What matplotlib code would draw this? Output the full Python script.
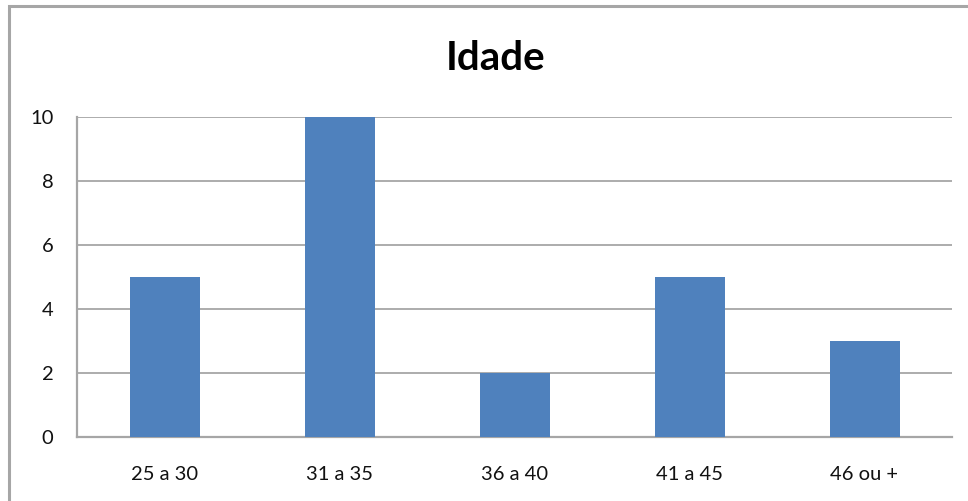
import matplotlib.pyplot as plt
from matplotlib.patches import Rectangle

categorias = ['25 a 30', '31 a 35', '36 a 40', '41 a 45', '46 ou +']
valores = [5, 10, 2, 5, 3]
yticks = [0, 2, 4, 6, 8, 10]

plt.rcParams['font.family'] = ['Lato', 'DejaVu Sans']

fig = plt.figure(figsize=(9.68, 5.01), dpi=100)
W, H = 968, 501

# moldura do gráfico (cortada à direita e em baixo)
fig.patches.append(Rectangle((9 / W, -0.1), 1.2, 1 - 5.5 / H + 0.1,
                             transform=fig.transFigure, fill=False,
                             edgecolor='#a6a6a6', linewidth=2.2))

ax = fig.add_axes([77 / W, (H - 437) / H, (952 - 77) / W, (437 - 117) / H])
x = range(len(categorias))
ax.bar(x, valores, width=0.4, color='#4f81bd', zorder=3)

ax.set_xlim(-0.5, len(categorias) - 0.5)
ax.set_ylim(0, 10)
ax.set_yticks(yticks)
ax.set_xticks(list(x))
ax.set_xticklabels(categorias)
ax.tick_params(axis='both', length=0, labelsize=14.5, colors='#111111')
ax.tick_params(axis='y', pad=17)
ax.tick_params(axis='x', pad=21)
ax.grid(axis='y', color='#a6a6a6', linewidth=1.3, zorder=0)

for s in ['top', 'right']:
    ax.spines[s].set_visible(False)
for s in ['left', 'bottom']:
    ax.spines[s].set_color('#a6a6a6')
    ax.spines[s].set_linewidth(1.6)

fig.text(496 / W, 1 - 70 / H, 'Idade', ha='center', va='baseline',
         fontsize=29, fontweight='bold')

fig.savefig('out.png', dpi=100)
